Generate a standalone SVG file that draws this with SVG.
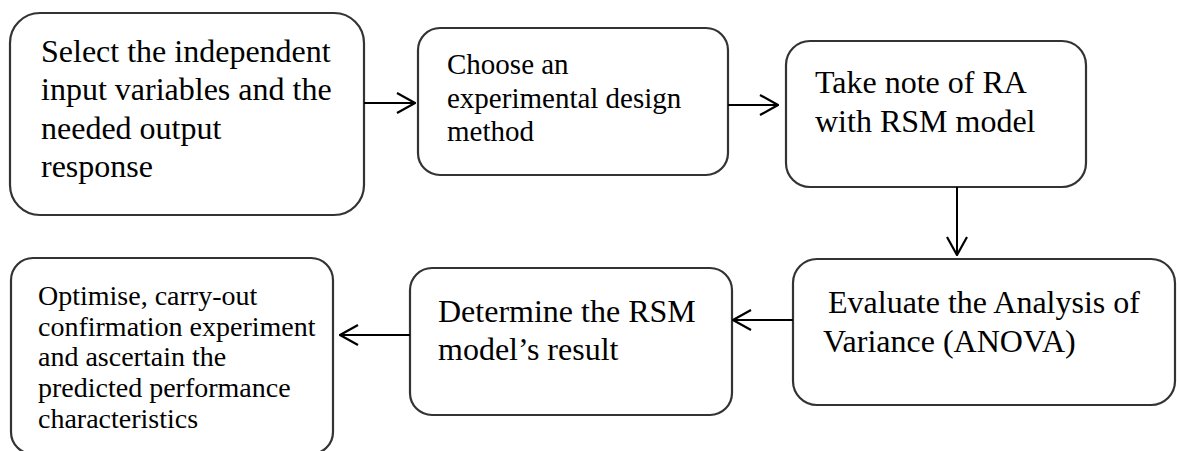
<svg xmlns="http://www.w3.org/2000/svg" width="1177" height="451" viewBox="0 0 1177 451">
<style>
.box{fill:#ffffff;stroke:#333333;stroke-width:2.2}
.t{font-family:"Liberation Serif","Times New Roman",serif;fill:#000000}
.t32{font-size:32px}
.t29{font-size:29px}
.t28{font-size:28px}
.c{fill:none;stroke:#000000;stroke-width:2}
</style>
<defs>
<marker id="ah" viewBox="0 0 20 24" refX="19" refY="12" markerWidth="20" markerHeight="24" markerUnits="userSpaceOnUse" orient="auto">
<path d="M1,2 L19,12 L1,22" fill="none" stroke="#000000" stroke-width="2.2"/>
</marker>
</defs>
<rect width="1177" height="451" fill="#ffffff"/>
<g id="n1">
<rect class="box" x="10" y="13" width="354" height="202" rx="30" ry="30"/>
<text class="t t32" x="41"><tspan x="41" y="62">Select the independent</tspan><tspan x="41" y="100">input variables and the</tspan><tspan x="41" y="138.5">needed output</tspan><tspan x="41" y="177">response</tspan></text>
</g>
<g id="n2">
<rect class="box" x="418" y="28" width="310" height="147" rx="22" ry="22"/>
<text class="t t29"><tspan x="447" y="74">Choose an</tspan><tspan x="447" y="108">experimental design</tspan><tspan x="447" y="141">method</tspan></text>
</g>
<g id="n3">
<rect class="box" x="786" y="41" width="300" height="146" rx="24" ry="24"/>
<text class="t t32"><tspan x="815" y="93">Take note of RA</tspan><tspan x="815" y="131.5">with RSM model</tspan></text>
</g>
<g id="n4">
<rect class="box" x="793" y="259" width="382" height="146" rx="24" ry="24"/>
<text class="t t32"><tspan x="828" y="313">Evaluate the Analysis of</tspan><tspan x="823" y="352">Variance (ANOVA)</tspan></text>
</g>
<g id="n5">
<rect class="box" x="410" y="268" width="322" height="147" rx="22" ry="22"/>
<text class="t t32"><tspan x="438" y="322">Determine the RSM</tspan><tspan x="438" y="360">model’s result</tspan></text>
</g>
<g id="n6">
<rect class="box" x="11" y="258" width="322" height="196" rx="22" ry="22"/>
<text class="t t28"><tspan x="38" y="305">Optimise, carry-out</tspan><tspan x="38" y="336">confirmation experiment</tspan><tspan x="38" y="366">and ascertain the</tspan><tspan x="38" y="397">predicted performance</tspan><tspan x="38" y="428">characteristics</tspan></text>
</g>
<g id="connectors">
<line class="c" x1="364" y1="103" x2="415" y2="103" marker-end="url(#ah)"/>
<line class="c" x1="728" y1="105" x2="778" y2="105" marker-end="url(#ah)"/>
<line class="c" x1="957" y1="187" x2="957" y2="255" marker-end="url(#ah)"/>
<line class="c" x1="793" y1="320" x2="733" y2="320" marker-end="url(#ah)"/>
<line class="c" x1="410" y1="335" x2="340" y2="335" marker-end="url(#ah)"/>
</g>
</svg>
